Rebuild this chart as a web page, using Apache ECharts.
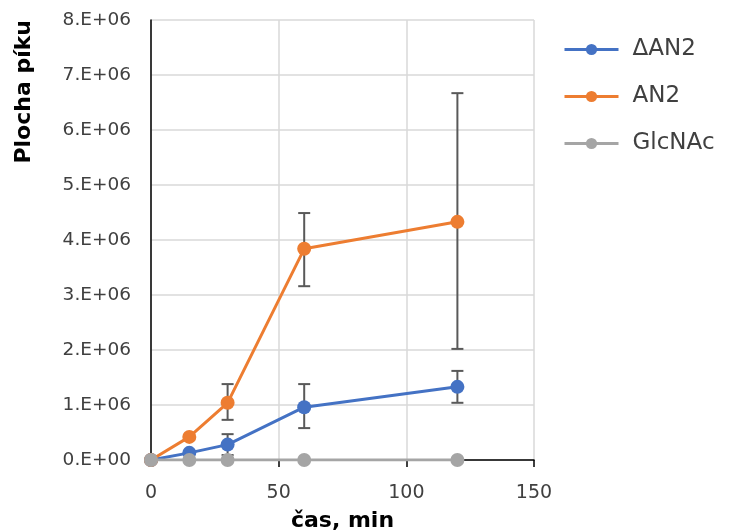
<!DOCTYPE html>
<html><head><meta charset="utf-8">
<script src="https://cdn.jsdelivr.net/npm/echarts@6/dist/echarts.min.js"></script>
<style>html,body{margin:0;padding:0;background:#fff}#c{width:739px;height:532px}</style>
</head><body><div id="c"></div>
<script>
const times = [0, 15, 30, 60, 120];
const dAN2 = [0, 0.13e6, 0.28e6, 0.96e6, 1.33e6];
const dAN2Hi = [null, null, 0.47e6, 1.38e6, 1.62e6];
const dAN2Lo = [null, null, 0.09e6, 0.58e6, 1.04e6];
const an2 = [0, 0.42e6, 1.04e6, 3.84e6, 4.33e6];
const an2Hi = [null, null, 1.38e6, 4.49e6, 6.67e6];
const an2Lo = [null, null, 0.73e6, 3.16e6, 2.02e6];
const glc = [0, 0, 0, 0, 0];
const seriesNames = ['\u0394AN2', 'AN2', 'GlcNAc'];
const colors = ['#4472C4', '#ED7D31', '#A5A5A5'];
const xTitle = 'čas, min';
const yTitle = 'Plocha píku';

const FONT = '"DejaVu Sans", sans-serif';
function pairs(ys){ return times.map((t,i)=>[t, ys[i]]); }
function errData(hi, lo){ const out=[]; times.forEach((t,i)=>{ if(hi[i]!=null) out.push([t, lo[i], hi[i]]); }); return out; }
function errSeries(hi, lo){
  return {
    type: 'custom', z: 1, silent: true,
    data: errData(hi, lo),
    renderItem: function(params, api){
      const top = api.coord([api.value(0), api.value(2)]);
      const bot = api.coord([api.value(0), api.value(1)]);
      const w = 6;
      const st = {stroke:'#595959', lineWidth:2};
      return {type:'group', children:[
        {type:'line', shape:{x1:top[0],y1:top[1],x2:bot[0],y2:bot[1]}, style:st},
        {type:'line', shape:{x1:top[0]-w,y1:top[1],x2:top[0]+w,y2:top[1]}, style:st},
        {type:'line', shape:{x1:bot[0]-w,y1:bot[1],x2:bot[0]+w,y2:bot[1]}, style:st}
      ]};
    }
  };
}
function lineSeries(name, ys, color, z){
  return {name:name, type:'line', data:pairs(ys), z:z, symbol:'circle', symbolSize:14,
    lineStyle:{color:color, width:3}, itemStyle:{color:color}, emphasis:{disabled:true}};
}
const chart = echarts.init(document.getElementById('c'));
chart.setOption({
  animation:false,
  textStyle:{fontFamily:FONT},
  grid:{left:151, right:205, top:20, bottom:72, containLabel:false, outerBoundsMode:'none'},
  xAxis:{type:'value', min:0, max:150, interval:50,
    axisLine:{lineStyle:{color:'#000', width:1.5}},
    axisTick:{show:true, length:7, lineStyle:{color:'#000', width:1.5}},
    axisLabel:{color:'#404040', fontSize:19, fontFamily:FONT, margin:24},
    splitLine:{show:true, lineStyle:{color:'#D9D9D9', width:1.5}},
    name:xTitle, nameLocation:'middle', nameGap:50,
    nameTextStyle:{color:'#000', fontSize:22, fontWeight:'bold', fontFamily:FONT}},
  yAxis:{type:'value', min:0, max:8e6, interval:1e6,
    axisLine:{show:true, lineStyle:{color:'#000', width:1.5}},
    axisTick:{show:false},
    axisLabel:{color:'#404040', fontSize:18.5, fontFamily:FONT, margin:20,
      formatter:function(v){ return v===0 ? '0.E+00' : (v/1e6)+'.E+06'; }},
    splitLine:{show:true, lineStyle:{color:'#D9D9D9', width:1.5}}},
  legend:{orient:'vertical', left:558, top:33, itemGap:24, itemWidth:54, itemHeight:14,
    data:seriesNames, lineStyle:{width:3},
    textStyle:{color:'#404040', fontSize:23, fontFamily:FONT, padding:[0,0,0,9]}},
  graphic:[{type:'text', left:13, top:20, rotation:Math.PI/2,
    style:{text:yTitle, fill:'#000', font:'bold 22px "DejaVu Sans", sans-serif'}}],
  series:[
    errSeries(dAN2Hi, dAN2Lo),
    errSeries(an2Hi, an2Lo),
    lineSeries(seriesNames[0], dAN2, colors[0], 3),
    lineSeries(seriesNames[1], an2, colors[1], 4),
    lineSeries(seriesNames[2], glc, colors[2], 5)
  ]
});
</script></body></html>
